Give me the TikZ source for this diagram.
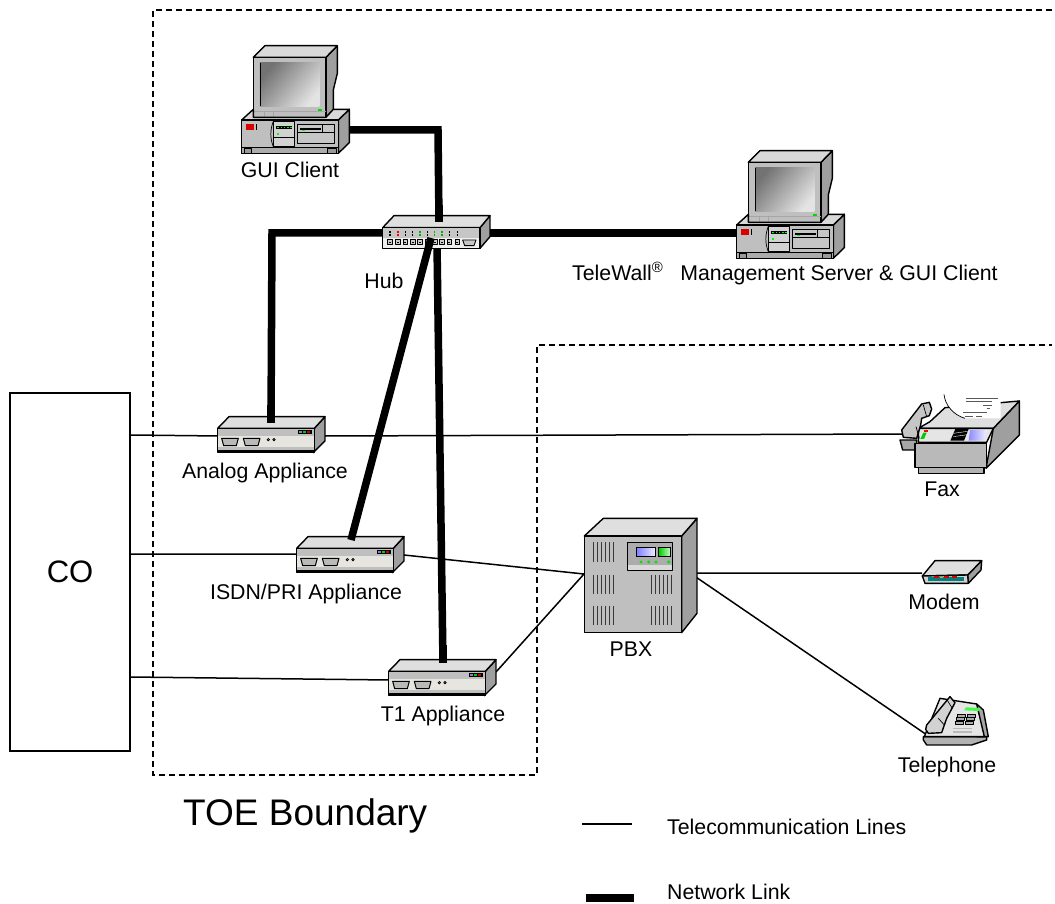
\documentclass[tikz,border=0pt]{standalone}
\usepackage{fontspec}
\setmainfont{Liberation Sans}
\tikzset{
  thick link/.style={line width=7.5pt,black,line cap=butt,line join=miter},
  thin link/.style={line width=1.5pt,black},
  boundary/.style={line width=1.2pt,black,dash pattern=on 6pt off 4pt},
  lbl/.style={font=\fontsize{21.3}{24}\selectfont,inner sep=0pt,text=black,anchor=base},
  ol/.style={draw=black,line width=1.4pt,line join=round},
  ot/.style={draw=black,line width=.7pt,line join=round},
  zoomed/.style={x=0.3333pt,y=-0.3333pt},
  pics/computer/.style={code={\begin{scope}[zoomed]
    \filldraw[ol,fill=gray!75] (318,82)--(352,47)--(352,130)--(340,180)--(340,240)--(318,262)--cycle;
    \filldraw[ol,fill=gray!30] (100,82)--(135,47)--(352,47)--(318,82)--cycle;
    \filldraw[ol,fill=gray!50] (100,82)--(318,82)--(318,262)--(100,262)--cycle;
    \shade[left color=gray!110,right color=gray!22,shading angle=50] (120,98) rectangle (298,230);
    \draw[black,line width=.7pt] (121,100)--(121,228);
    \draw[gray!70,line width=.6pt] (100,245)--(318,245) (132,245)--(132,262) (160,245)--(160,262);
    \fill[green!85!black] (294,236) rectangle (306,244);
    \filldraw[ol,fill=gray!75] (355,270)--(388,238)--(388,338)--(355,370)--cycle;
    \filldraw[ol,fill=gray!30] (65,270)--(100,238)--(100,262)--(318,262)--(340,238)--(388,238)--(355,270)--cycle;
    \filldraw[ol,fill=gray!50] (65,270) rectangle (355,370);
    \draw[ot,fill=gray!65] (65,352) rectangle (355,370);
    \draw[ot,fill=gray!80] (72,356) rectangle (95,370) (323,356) rectangle (350,370);
    \fill[red!85!black] (78,282) rectangle (102,300);
    \draw[black,line width=.6pt] (109,282)--(109,300);
    \draw[ot,fill=gray!35] (160,274) rectangle (222,350);
    \draw[ot] (160,274) .. controls (150,300) and (150,325) .. (160,350);
    \draw[ot] (160,322)--(222,322);
    \fill[black] (168,288) rectangle (215,297);
    \foreach \a in {172,182,192,202,211}{\fill[green] (\a,291) rectangle +(4,3);}
    \fill[green] (170,310) rectangle (177,315);
    \draw[ot,fill=gray!45] (233,282) rectangle (342,340);
    \draw[ot] (233,306)--(342,306) (306,282)--(306,306);
    \fill[black] (240,293) rectangle (302,299);
    \fill[green] (247,299) rectangle (254,302);
  \end{scope}}},
  pics/appliance/.style={code={\begin{scope}[zoomed]
    \filldraw[ol,fill=gray!75] (328,70)--(360,35)--(360,108)--(325,143)--cycle;
    \filldraw[ol,fill=gray!25] (38,70)--(72,35)--(360,35)--(328,70)--cycle;
    \filldraw[ol,fill=gray!50] (38,70) rectangle (328,143);
    \fill[black] (38,128) rectangle (328,143);
    \fill[gray!50] (40,125) rectangle (326,134);
    \fill[yellow!10!gray!25] (40,93) rectangle (326,125);
    \foreach \a in {50,115}{\filldraw[ot,line width=1pt,fill=gray!55] (\a,100)--+(50,0)--+(44,22)--+(6,22)--cycle;}
    \foreach \a in {190,207}{\draw[black,line width=.8pt,fill=gray!20] (\a,104) circle (3.5);}
    \fill[black] (280,75) rectangle (320,87);
    \fill[blue!40!gray!70] (283,78) rectangle (292,84);
    \fill[green!80!black] (295,78) rectangle (304,84);
    \fill[red!80!black] (307,78) rectangle (316,84);
  \end{scope}}},
  pics/hubdev/.style={code={\begin{scope}[zoomed]
    \filldraw[ol,fill=gray!75] (330,68)--(360,32)--(360,95)--(330,130)--cycle;
    \filldraw[ol,fill=gray!25] (38,68)--(72,32)--(360,32)--(330,68)--cycle;
    \filldraw[ol,fill=gray!45] (38,68) rectangle (330,130);
    \fill[yellow!8!gray!15] (40,98) rectangle (328,128);
    \foreach \a/\c in {60/black,84/red,106/black,128/black,150/green!70!black,172/black,194/green!70!black,216/green!70!black,238/black,262/black}{
      \fill[\c] (\a-2,78) rectangle +(4,6);
      \fill[\c] (\a-2,87) rectangle +(4,7);
      \filldraw[ot,line width=.9pt,fill=gray!40] (\a-7,104) rectangle +(14,15);
      \fill[black] (\a-3,110) rectangle +(6,5);
    }
    \filldraw[ot,line width=.9pt,fill=gray!45] (278,105)--(318,105)--(312,122)--(284,122)--cycle;
  \end{scope}}},
  pics/faxdev/.style={code={\begin{scope}[zoomed]
    \filldraw[ol,fill=gray!70] (30,165)--(80,165)--(80,195)--(38,195)--cycle;
    \filldraw[ol,fill=gray!75] (310,130)--(388,48)--(388,150)--(288,250)--cycle;
    \filldraw[ol,fill=gray!25] (120,110)--(165,68)--(388,48)--(310,130)--(85,130)--cycle;
    \filldraw[ol,fill=gray!55] (75,175)--(290,175)--(290,248)--(75,248)--cycle;
    \filldraw[ol,fill=gray!20] (85,130)--(310,130)--(290,172)--(85,172)--cycle;
    \filldraw[ol,fill=gray!60] (85,248)--(282,248)--(282,265)--(85,265)--cycle;
    \fill[white] (162,28)--(332,28)--(332,100)--(225,100) .. controls (190,90) and (165,60) .. (162,28);
    \draw[black,line width=.7pt] (162,28) .. controls (165,60) and (190,90) .. (225,100);
    \draw[gray!70!black,line width=1pt] (228,40)--(325,40) (228,50)--(305,50) (280,62)--(305,62) (290,70)--(300,70) (220,84)--(290,84) (225,95)--(250,95) (258,95)--(275,95);
    \fill[black] (196,132)--(236,132)--(222,167)--(181,167)--cycle;
    \foreach \a in {142,152}{\draw[white,line width=.4pt] (190,\a+3)--(233,\a-3);}
    \shade[left color=blue!45!white,right color=blue!5!white] (240,135)--(292,135)--(280,167)--(236,167)--cycle;
    \fill[red] (102,135) rectangle (114,141);
    \fill[green!80!black] (100,143)--(110,143)--(102,162)--(91,162)--cycle;
    \filldraw[ol,fill=gray!45] (35,135)--(95,57)--(118,52)--(125,72)--(118,92)--(95,100)--(92,120)--(80,160)--(40,157)--cycle;
    \draw[ot] (100,60)--(110,95) (78,125)--(88,160);
  \end{scope}}},
  pics/pbxdev/.style={code={\begin{scope}[zoomed]
    \filldraw[ol,fill=gray!75] (320,78)--(366,25)--(366,310)--(320,368)--cycle;
    \filldraw[ol,fill=gray!25] (28,78)--(85,25)--(366,25)--(320,78)--cycle;
    \filldraw[ol,fill=gray!50] (28,78) rectangle (320,368);
    \foreach \a/\b in {55/97,55/195,55/288,228/195,228/288}{
      \foreach \i in {0,12,24,36,48,60}{\draw[gray!45!black,line width=.9pt] (\a+\i,\b)--+(0,58);}
    }
    \filldraw[ot,line width=1pt,fill=gray!30] (157,97) rectangle (293,183);
    \fill[gray!65] (158,98) rectangle (292,166);
    \shade[left color=blue!50!white,right color=blue!8!white,draw=black,line width=.8pt] (185,112) rectangle (240,140);
    \shade[left color=green!80!black,right color=green!20!white,draw=black,line width=.8pt] (251,112) rectangle (287,140);
    \foreach \a in {198,221,243,281}{\fill[green!90!black] (\a,156) circle (5);}
  \end{scope}}},
  pics/modemdev/.style={code={\begin{scope}[zoomed]
    \filldraw[ol,fill=gray!75] (188,75)--(230,32)--(228,60)--(190,100)--cycle;
    \filldraw[ol,fill=gray!25] (52,78)--(90,32)--(230,32)--(188,75)--cycle;
    \filldraw[ol,fill=gray!35] (52,78)--(188,75)--(190,100)--(60,100)--cycle;
    \fill[teal] (70,81) rectangle (178,93);
    \foreach \a in {88,118,142}{\fill[red!85!black] (\a,77) rectangle +(15,7);}
    \fill[yellow!70!black] (105,80) rectangle +(10,3);
  \end{scope}}},
  pics/phonedev/.style={code={\begin{scope}[zoomed]
    \filldraw[ol,fill=gray!60] (55,140)--(245,140)--(245,150)--(200,165)--(65,165)--(55,150)--cycle;
    \filldraw[ol,fill=gray!70] (215,42)--(235,60)--(250,140)--(215,140)--cycle;
    \filldraw[ol,fill=gray!20] (105,25)--(215,42)--(238,140)--(58,140)--cycle;
    \fill[green!75!white] (182,52)--(226,54)--(222,63)--(178,61)--cycle;
    \foreach \a in {0,1,2}{\foreach \b in {0,1}{\filldraw[ot,line width=.4pt,fill=gray!65] (158+\b*28-\a*3,72+\a*11) rectangle +(24,9);}}
    \foreach \a in {0,1}{\fill[gray!55] (145,113+\a*10) rectangle +(55,5);}
    \filldraw[ol,fill=gray!35] (65,105)--(135,20)--(150,38)--(125,85)--(110,128)--(70,130)--(62,118)--cycle;
    \draw[ot] (125,28)--(142,55) (100,85)--(118,105);
  \end{scope}}}
}
\begin{document}
\begin{tikzpicture}[x=1pt,y=-1pt]
\useasboundingbox (0,0) rectangle (1055,904);
\fill[white] (0,0) rectangle (1055,904);
% boundaries
\coordinate (tA) at (1052,10); \coordinate (tB) at (153,10); \coordinate (tC) at (153,775);
\coordinate (tD) at (537,775); \coordinate (tE) at (537,345); \coordinate (tF) at (1052,345);
\draw[boundary] (tA)--(tB)--(tC)--(tD)--(tE)--(tF);
% CO
\node[draw=black,line width=1.1pt,minimum width=120pt,minimum height=358pt,inner sep=0pt,font=\fontsize{31}{34}\selectfont] (co) at (70,572) {CO};
% connector ends
\coordinate (coA) at (130,435); \coordinate (coB) at (130,554); \coordinate (coC) at (130,677);
\coordinate (anaL) at (220,436); \coordinate (anaR) at (325,436); \coordinate (faxL) at (905,434);
\coordinate (isdnL) at (298,554); \coordinate (isdnR) at (404,555); \coordinate (pbxL) at (584,574);
\coordinate (t1L) at (390,680); \coordinate (t1R) at (496,672);
\coordinate (pbxR) at (690,573); \coordinate (modemL) at (922,573); \coordinate (phoneL) at (927,735);
\coordinate (guiR) at (346,130); \coordinate (guiB) at (438,130); \coordinate (hubT) at (439,222);
\coordinate (hubL) at (384,233); \coordinate (hubLb) at (272,233); \coordinate (anaT) at (271,423);
\coordinate (hubR) at (488,233); \coordinate (srvL) at (740,233);
\coordinate (hubS) at (431,238); \coordinate (isdnT) at (351,540);
\coordinate (hubV) at (437,245); \coordinate (t1T) at (443,663);
\coordinate (lgA) at (582,824); \coordinate (lgB) at (632,824); \coordinate (lgC) at (586,898); \coordinate (lgD) at (634,898);
% thin links
\draw[thin link] (coA)--(anaL) (anaR)--(faxL) (coB)--(isdnL) (isdnR)--(pbxL) (coC)--(t1L) (t1R)--(pbxL) (pbxR)--(modemL) (pbxR)--(phoneL);
% thick links under devices
\draw[thick link] (hubL)--(hubLb)--(anaT);
\draw[thick link] (hubR)--(srvL);
\draw[thick link] (hubV)--(t1T);
\draw[thick link] (guiR)--(guiB)--(hubT);
% devices
\pic at (220,30) {computer};
\pic at (715,135) {computer};
\pic at (370,205) {hubdev};
\pic at (205,405) {appliance};
\pic at (284,525) {appliance};
\pic at (376,648) {appliance};
\pic at (890,385) {faxdev};
\pic at (575,510) {pbxdev};
\pic at (905,550) {modemdev};
\pic at (905,690) {phonedev};
% thick links over devices
\draw[thick link] (hubT)--(439,205);
\draw[thick link] (hubS)--(isdnT);
\draw[thick link] (271,405)--(anaT);
\draw[thick link] (443,645)--(t1T);
% labels
\node[lbl] (lGui) at (290,178) {GUI Client};
\node[lbl] (lHub) at (384,288) {Hub};
\node[lbl,anchor=base west] (lSrv) at (572,280) {TeleWall\textsuperscript{®}\hspace{17pt}Management Server \& GUI Client};
\node[lbl] (lAna) at (265,478) {Analog Appliance};
\node[lbl] (lIsdn) at (306,599) {ISDN/PRI Appliance};
\node[lbl] (lT1) at (443,721) {T1 Appliance};
\node[lbl] (lFax) at (942,496) {Fax};
\node[lbl] (lPbx) at (631,656) {PBX};
\node[lbl] (lModem) at (944,609) {Modem};
\node[lbl] (lPhone) at (947,772) {Telephone};
\node[lbl,font=\fontsize{37}{40}\selectfont,anchor=base west] (lToe) at (183,825) {TOE Boundary};
% legend
\draw[thin link] (lgA)--(lgB);
\draw[thick link] (lgC)--(lgD);
\node[lbl,anchor=base west] (lTel) at (667,834) {Telecommunication Lines};
\node[lbl,anchor=base west] (lNet) at (667,899) {Network Link};
\end{tikzpicture}
\end{document}
